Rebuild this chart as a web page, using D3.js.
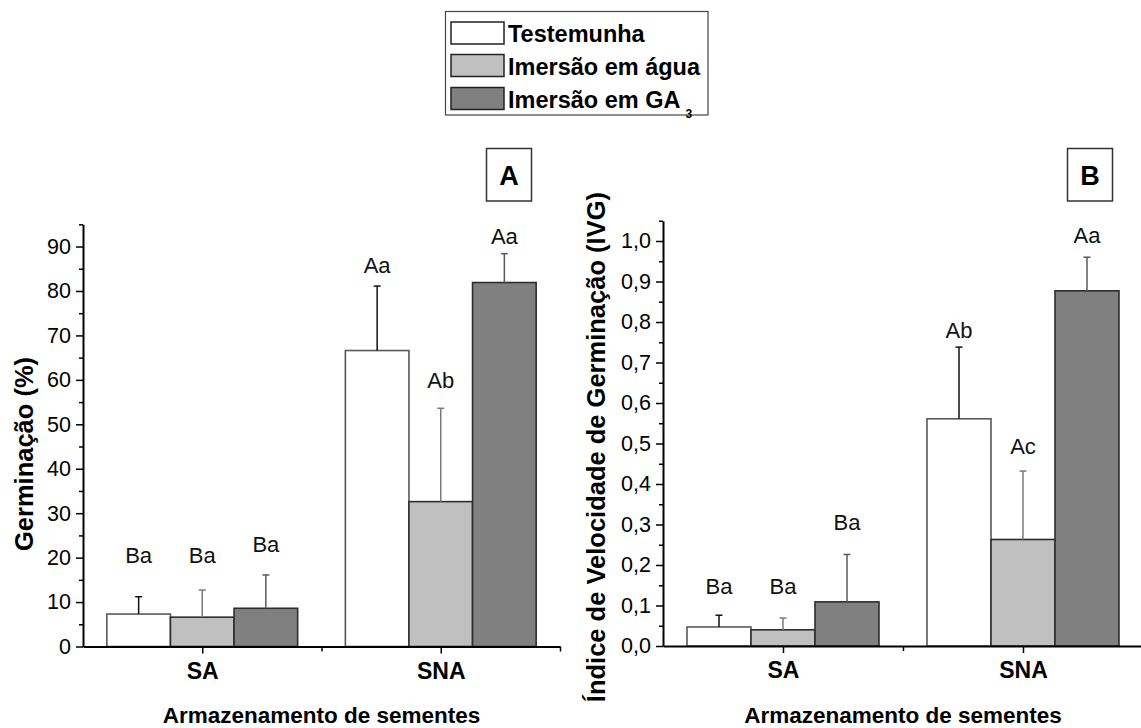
<!DOCTYPE html>
<html><head><meta charset="utf-8">
<script src="https://cdn.jsdelivr.net/npm/d3@7"></script>
<style>
body{margin:0;background:#fff}
svg{display:block}
text{font-family:"Liberation Sans",Arial,Helvetica,sans-serif}
</style>
</head><body>
<svg id="chart" width="1141" height="728"></svg>
<script>
// ---------- DATA ----------
const categories = ["SA", "SNA"];
const seriesNames = ["Testemunha", "Imersão em água", "Imersão em GA"];
const seriesSub = ["", "", "3"];

// Panel A: Germinação (%)
const germTestemunha = [7.3, 66.6];
const germAgua = [6.6, 32.6];
const germGA3 = [8.6, 81.9];
const germErrTestemunha = [3.9, 14.5];
const germErrAgua = [6.1, 21.0];
const germErrGA3 = [7.5, 6.5];
const germLetters = [["Ba", "Ba", "Ba"], ["Aa", "Ab", "Aa"]];
const germLetterY = [[18.8, 18.8, 21.3], [84.0, 58.1, 90.6]];
const germTicks = [0, 10, 20, 30, 40, 50, 60, 70, 80, 90];
const germMinorTicks = [5, 15, 25, 35, 45, 55, 65, 75, 85, 95];

// Panel B: IVG
const ivgTestemunha = [0.047, 0.561];
const ivgAgua = [0.040, 0.263];
const ivgGA3 = [0.109, 0.877];
const ivgErrTestemunha = [0.029, 0.177];
const ivgErrAgua = [0.029, 0.169];
const ivgErrGA3 = [0.117, 0.083];
const ivgLetters = [["Ba", "Ba", "Ba"], ["Ab", "Ac", "Aa"]];
const ivgLetterY = [[0.129, 0.129, 0.287], [0.760, 0.475, 0.994]];
const ivgTicks = [0, 0.1, 0.2, 0.3, 0.4, 0.5, 0.6, 0.7, 0.8, 0.9, 1.0];
const ivgMinorTicks = [0.05, 0.15, 0.25, 0.35, 0.45, 0.55, 0.65, 0.75, 0.85, 0.95, 1.05];

// ---------- STYLE ----------
const fills = ["#ffffff", "#c0c0c0", "#808080"];
const strokes = ["#5a5a5a", "#2e2e2e", "#2e2e2e"];
const errColors = ["#111111", "#7a7a7a", "#5a5a5a"];

const svg = d3.select("#chart");

function drawPanel(cfg) {
  const g = svg.append("g");
  const x = d3.scaleLinear().domain([0.5, 2.5]).range(cfg.xRange);
  const y = d3.scaleLinear().domain([0, cfg.yMax]).range([cfg.y0, cfg.yTop]);
  const groupW = 0.8, bw = groupW / 3;

  cfg.values.forEach((vals, si) => {
    vals.forEach((v, ci) => {
      const c = ci + 1;
      const left = c - groupW / 2 + si * bw;
      const cx = left + bw / 2;
      // bar
      g.append("rect")
        .attr("x", x(left)).attr("y", y(v))
        .attr("width", x(left + bw) - x(left))
        .attr("height", y(0) - y(v))
        .attr("fill", fills[si]).attr("stroke", strokes[si]).attr("stroke-width", 1.6);
      // error bar
      const e = cfg.errors[si][ci];
      g.append("line")
        .attr("x1", x(cx)).attr("x2", x(cx))
        .attr("y1", y(v)).attr("y2", y(v + e))
        .attr("stroke", errColors[si]).attr("stroke-width", 1.5);
      g.append("line")
        .attr("x1", x(cx) - 3.5).attr("x2", x(cx) + 3.5)
        .attr("y1", y(v + e)).attr("y2", y(v + e))
        .attr("stroke", errColors[si]).attr("stroke-width", 1.5);
      // letters
      g.append("text")
        .attr("x", x(cx)).attr("y", y(cfg.letterY[ci][si]))
        .attr("text-anchor", "middle")
        .attr("font-size", "22px").attr("fill", "#111")
        .text(cfg.letters[ci][si]);
    });
  });

  // X axis
  const xa = g.append("g").attr("transform", `translate(0,${cfg.y0})`)
    .call(d3.axisBottom(x).tickValues([1, 2]).tickFormat(d => categories[d - 1])
      .tickSize(7).tickSizeOuter(0).tickPadding(9));
  xa.select(".domain").attr("stroke", "#000").attr("stroke-width", 2);
  xa.selectAll(".tick line").attr("stroke", "#000").attr("stroke-width", 1.5);
  xa.selectAll(".tick text").attr("font-size", "23px").attr("font-weight", "bold")
    .attr("fill", "#000").attr("font-family", "'Liberation Sans', Arial, sans-serif");
  const xm = g.append("g").attr("transform", `translate(0,${cfg.y0})`)
    .call(d3.axisBottom(x).tickValues([1.5, 2.5]).tickFormat("").tickSize(5).tickSizeOuter(0));
  xm.select(".domain").remove();
  xm.selectAll(".tick line").attr("stroke", "#000").attr("stroke-width", 1.5);

  // Y axis
  const ya = g.append("g").attr("transform", `translate(${cfg.xRange[0]},0)`)
    .call(d3.axisLeft(y).tickValues(cfg.ticks).tickFormat(cfg.fmt)
      .tickSize(7).tickSizeOuter(0).tickPadding(5));
  ya.select(".domain").attr("stroke", "#000").attr("stroke-width", 2);
  ya.selectAll(".tick line").attr("stroke", "#000").attr("stroke-width", 1.5);
  ya.selectAll(".tick text").attr("font-size", "21.5px").attr("fill", "#000")
    .attr("font-family", "'Liberation Sans', Arial, sans-serif");
  const ym = g.append("g").attr("transform", `translate(${cfg.xRange[0]},0)`)
    .call(d3.axisLeft(y).tickValues(cfg.minorTicks).tickFormat("").tickSize(4).tickSizeOuter(0));
  ym.select(".domain").remove();
  ym.selectAll(".tick line").attr("stroke", "#000").attr("stroke-width", 1.5);

  // Axis titles
  g.append("text")
    .attr("x", x(1.5)).attr("y", 723)
    .attr("text-anchor", "middle").attr("font-weight", "bold").attr("font-size", "22.5px")
    .attr("fill", "#000").text("Armazenamento de sementes");
  g.append("text")
    .attr("transform", `translate(${cfg.yTitleX},${cfg.yTitleY}) rotate(-90)`)
    .attr("text-anchor", cfg.yTitleAnchor).attr("font-weight", "bold").attr("font-size", "25.5px")
    .attr("fill", "#000").text(cfg.yTitle);

  // Panel letter box
  g.append("rect")
    .attr("x", cfg.boxX).attr("y", 148.5).attr("width", 45).attr("height", 52.5)
    .attr("fill", "#fff").attr("stroke", "#333").attr("stroke-width", 1.5);
  g.append("text")
    .attr("x", cfg.boxX + 22.5).attr("y", 185)
    .attr("text-anchor", "middle").attr("font-weight", "bold").attr("font-size", "27px")
    .attr("fill", "#000").text(cfg.panelLetter);
}

drawPanel({
  xRange: [83, 560], y0: 646.5, yMax: 95, yTop: 646.5 - 95 * 4.444,
  values: [germTestemunha, germAgua, germGA3],
  errors: [germErrTestemunha, germErrAgua, germErrGA3],
  letters: germLetters, letterY: germLetterY,
  ticks: germTicks, minorTicks: germMinorTicks, fmt: d => String(d),
  yTitle: "Germinação (%)", yTitleX: 33, yTitleY: 454, yTitleAnchor: "middle",
  boxX: 486.5, panelLetter: "A"
});

drawPanel({
  xRange: [663, 1143], y0: 646, yMax: 1.05, yTop: 646 - 1.05 * 405,
  values: [ivgTestemunha, ivgAgua, ivgGA3],
  errors: [ivgErrTestemunha, ivgErrAgua, ivgErrGA3],
  letters: ivgLetters, letterY: ivgLetterY,
  ticks: ivgTicks, minorTicks: ivgMinorTicks, fmt: d => d.toFixed(1).replace(".", ","),
  yTitle: "Índice de Velocidade de Germinação (IVG)", yTitleX: 605, yTitleY: 192, yTitleAnchor: "end",
  boxX: 1067.5, panelLetter: "B"
});

// ---------- LEGEND ----------
const leg = svg.append("g");
leg.append("rect").attr("x", 445.5).attr("y", 11.5).attr("width", 262.5).attr("height", 103.5)
  .attr("fill", "#fff").attr("stroke", "#444").attr("stroke-width", 1.2);
const rowY = [22, 54.5, 87.5];
seriesNames.forEach((name, i) => {
  leg.append("rect").attr("x", 451).attr("y", rowY[i]).attr("width", 53).attr("height", 22)
    .attr("fill", fills[i]).attr("stroke", "#222").attr("stroke-width", 1.5);
  const t = leg.append("text").attr("x", 508).attr("y", rowY[i] + 20)
    .attr("font-weight", "bold").attr("font-size", "23.5px").attr("fill", "#000");
  t.append("tspan").text(name);
  if (seriesSub[i]) {
    t.append("tspan").attr("dx", 5).attr("dy", 10).attr("font-size", "12px").text(seriesSub[i]);
  }
});
</script>
</body></html>
